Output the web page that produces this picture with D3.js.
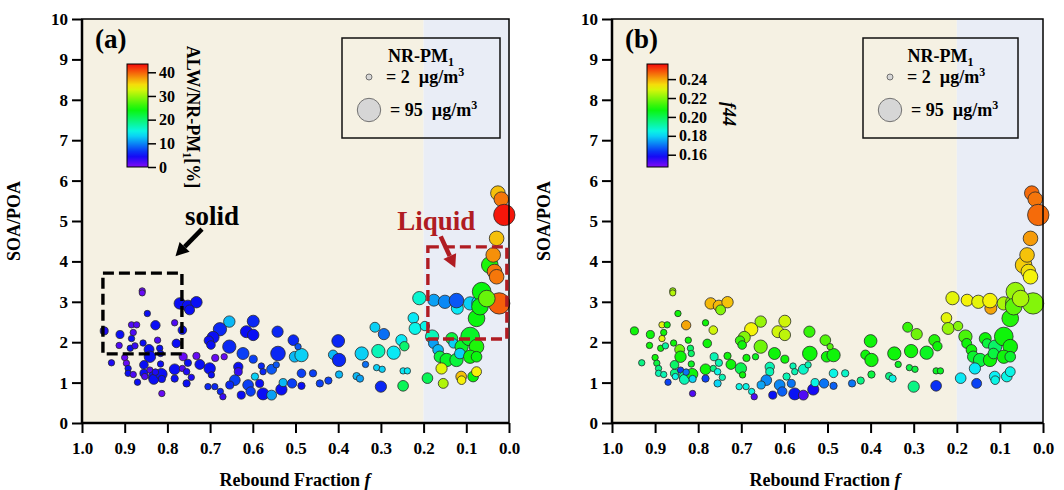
<!DOCTYPE html>
<html>
<head>
<meta charset="utf-8">
<script src="https://cdn.jsdelivr.net/npm/d3@7"></script>
<style>
body { margin: 0; background: #fff; }
svg text { font-family: "Liberation Serif", Tinos, "Times New Roman", "DejaVu Serif", serif !important; font-weight: bold; fill: #000; }
</style>
</head>
<body>
<svg id="chart" width="1064" height="490"></svg>
<script>
// rebound fraction f (x)
const reboundF = [
  0.948,0.911,0.931,0.913,0.859,0.859,0.847,0.884,0.872,0.828,
  0.783,0.880,0.884,0.823,0.857,0.887,0.876,0.818,0.843,0.841,
  0.816,0.779,0.765,0.771,0.752,0.732,0.748,0.763,0.732,0.724,
  0.752,0.783,0.765,0.755,0.744,0.783,0.755,0.900,0.896,0.892,
  0.892,0.880,0.870,0.855,0.855,0.853,0.841,0.833,0.832,0.814,
  0.813,0.813,0.816,0.828,
  0.677,0.693,0.703,0.698,0.655,0.688,0.667,0.701,0.697,0.705,
  0.689,0.676,0.670,0.655,0.599,0.615,0.599,0.623,0.599,0.634,
  0.634,0.642,0.654,0.595,0.611,0.605,0.627,0.580,0.576,0.584,
  0.576,0.556,0.556,0.545,0.542,0.541,0.533,0.529,0.508,0.505,
  0.502,0.486,0.494,0.486,0.486,0.459,0.443,0.423,
  0.400,0.412,0.398,0.398,0.357,0.349,0.345,0.336,0.314,0.293,
  0.306,0.310,0.297,0.300,0.270,0.252,0.245,0.248,0.238,0.248,
  0.224,0.210,0.220,0.197,0.180,0.191,
  0.176,0.150,0.121,0.123,0.091,0.070,0.076,0.064,0.045,0.034,
  0.029,0.023,0.068,0.052,0.026,0.018,0.011,0.029,0.037,0.177,
  0.166,0.162,0.146,0.134,0.130,0.123,0.111,0.115,0.091,0.076,
  0.091,0.076,0.158,0.154,0.112,0.111,0.084,0.076
];
// SOA/POA (y)
const soaPoa = [
  2.28,2.19,1.49,1.92,3.27,3.22,2.71,2.43,2.43,2.42,
  2.48,2.24,2.09,2.05,1.98,1.85,1.91,1.85,1.82,1.64,
  1.72,1.97,2.30,2.96,2.90,2.99,2.80,1.64,1.66,1.45,
  1.49,1.33,1.35,1.27,1.13,1.10,0.98,1.62,1.48,1.35,
  1.23,1.20,1.01,1.23,1.44,1.15,1.31,1.15,1.08,1.21,
  1.09,0.73,1.46,1.26,
  2.32,2.12,2.04,1.93,1.89,1.61,1.64,1.35,1.19,0.90,
  0.90,0.78,0.65,2.51,2.52,2.26,2.18,1.72,1.58,1.39,
  1.27,1.06,0.94,1.15,0.94,0.78,0.69,1.41,1.27,0.98,
  0.72,0.69,1.33,1.44,2.26,1.72,0.83,1.00,0.98,2.05,
  1.64,1.68,1.89,1.23,0.92,1.23,0.98,1.05,
  2.03,1.69,1.56,1.20,1.16,1.10,1.72,1.45,2.37,2.20,
  1.78,1.37,1.33,0.90,1.74,2.05,1.90,1.29,1.29,0.92,
  2.60,3.09,2.34,2.40,2.14,1.11,
  3.04,3.00,2.84,3.03,2.96,2.98,2.59,3.25,3.91,3.75,
  3.62,2.96,2.88,3.08,5.69,5.54,5.15,4.57,4.16,1.97,
  1.81,1.64,1.56,2.09,1.97,1.56,1.89,1.72,2.14,1.89,
  1.64,1.64,1.35,0.98,1.15,1.06,1.15,1.27
];
// NR-PM1 mass, ug/m3 (marker size)
const nrPm1 = [
  13,13,4,4,4,3,4,4,4,20,
  4,4,4,4,4,4,4,4,23,31,
  4,16,16,31,31,31,23,13,9,23,
  9,27,4,5,4,9,9,4,4,4,
  4,4,4,13,16,4,4,23,23,31,
  9,4,4,5,
  41,34,20,16,41,9,4,31,4,4,
  4,4,4,31,34,34,31,34,13,20,
  13,27,13,9,27,20,13,4,4,13,
  34,23,23,4,30,48,30,13,20,27,
  27,41,4,16,9,9,9,9,
  38,20,41,9,9,9,41,4,23,30,
  41,4,4,30,41,30,20,4,4,27,
  27,41,34,20,41,27,
  34,41,34,48,41,48,59,70,59,48,
  48,84,59,59,48,48,84,48,48,23,
  27,31,41,34,20,41,41,27,70,48,
  41,27,30,23,27,16,27,23
];
// ALW / NR-PM1 [%] (colour, panel a)
const alwPct = [
  4,5,4,2,1,1,5,2,2,5,
  2,2,5,2,5,5,3,5,5,5,
  5,5,5,5,5,5,5,1,1,5,
  5,5,2,4,4,5,5,1,1,5,
  5,2,5,5,5,2,2,5,5,5,
  5,1,5,4,
  6,5,5,5,6,1,1,5,5,6,
  6,6,3,12,6,5,5,7,7,5,
  3,7,6,13,7,7,5,6,6,5,
  5,11,8,8,6,6,5,12,7,6,
  12,13,8,7,5,7,7,7,
  6,12,6,12,12,11,13,9,13,9,
  17,13,13,6,14,14,20,14,14,21,
  14,16,15,15,17,21,
  11,10,14,8,13,13,24,24,25,39,
  39,40,24,28,36,39,43,36,38,11,
  12,22,23,22,13,22,23,13,23,25,
  24,24,33,31,36,34,24,34
];
// f44 (colour, panel b)
const f44 = [
  0.208,0.208,0.195,0.208,0.222,0.225,0.208,0.230,0.208,0.240,
  0.208,0.208,0.230,0.208,0.208,0.208,0.192,0.198,0.218,0.208,
  0.198,0.208,0.228,0.238,0.238,0.237,0.220,0.190,0.208,0.208,
  0.190,0.208,0.195,0.185,0.190,0.165,0.180,0.208,0.202,0.195,
  0.190,0.190,0.165,0.195,0.198,0.185,0.165,0.195,0.190,0.208,
  0.180,0.152,0.205,0.170,
  0.232,0.220,0.212,0.208,0.218,0.208,0.205,0.200,0.208,0.185,
  0.185,0.185,0.152,0.222,0.228,0.228,0.226,0.208,0.208,0.190,
  0.190,0.172,0.175,0.190,0.172,0.168,0.160,0.190,0.190,0.170,
  0.160,0.152,0.188,0.190,0.212,0.208,0.158,0.185,0.170,0.215,
  0.208,0.208,0.215,0.185,0.168,0.188,0.170,0.195,
  0.208,0.208,0.208,0.202,0.195,0.185,0.208,0.205,0.212,0.218,
  0.208,0.202,0.202,0.195,0.205,0.210,0.208,0.205,0.205,0.163,
  0.230,0.230,0.222,0.220,0.214,0.182,
  0.232,0.230,0.240,0.232,0.224,0.220,0.210,0.222,0.236,0.234,
  0.232,0.220,0.216,0.224,0.246,0.245,0.246,0.241,0.237,0.208,
  0.208,0.204,0.202,0.208,0.202,0.208,0.198,0.202,0.208,0.208,
  0.208,0.204,0.182,0.165,0.183,0.185,0.185,0.185
];

const xTicks = [1.0,0.9,0.8,0.7,0.6,0.5,0.4,0.3,0.2,0.1,0.0];
const yTicks = [0,1,2,3,4,5,6,7,8,9,10];
const alwTicks = [0,10,20,30,40];
const f44Ticks = [0.16,0.18,0.20,0.22,0.24];
const legendSizes = [2,95];
const liquidLimit = 0.2;

const serif = '"Liberation Serif", Tinos, "Times New Roman", "DejaVu Serif", serif';
const svg = d3.select('#chart');
const points = reboundF.map((f, i) => ({ f: f, r: soaPoa[i], pm: nrPm1[i], alw: alwPct[i], f44: f44[i] }));

// Igor style rainbow: purple at bottom, red at top
function rainbow(t) {
  t = Math.max(0, Math.min(1, t));
  return d3.hsl(270 * (1 - t), 0.92, 0.5).formatHex();
}

const sizeScale = d3.scaleLinear().domain([2, 95]).range([3, 11.7]);

// gradient for colour bars
const defs = svg.append('defs');
const grad = defs.append('linearGradient').attr('id', 'rainbowGrad')
  .attr('x1', 0).attr('y1', 1).attr('x2', 0).attr('y2', 0);
d3.range(0, 1.0001, 0.05).forEach(t => {
  grad.append('stop').attr('offset', t).attr('stop-color', rainbow(t));
});

function drawPanel(opt) {
  const top = 19, height = 404;
  const g = svg.append('g').attr('transform', `translate(${opt.left},${top})`);
  const x = d3.scaleLinear().domain([1, 0]).range([0, opt.width]);
  const y = d3.scaleLinear().domain([0, 10]).range([height, 0]);
  const cNorm = d3.scaleLinear().domain(opt.cDomain).range([0, 1]);

  // backgrounds: solid / liquid regions
  g.append('rect').attr('x', 0).attr('y', 0).attr('width', x(liquidLimit)).attr('height', height).attr('fill', '#f5f1e3');
  g.append('rect').attr('x', x(liquidLimit)).attr('y', 0).attr('width', opt.width - x(liquidLimit)).attr('height', height).attr('fill', '#e9edf6');

  // axes
  const yAxis = g.append('g').call(d3.axisLeft(y).tickValues(yTicks).tickSize(10).tickPadding(4).tickSizeOuter(0).tickFormat(d3.format('d')));
  const xAxis = g.append('g').attr('transform', `translate(0,${height})`)
    .call(d3.axisBottom(x).tickValues(xTicks).tickSize(10).tickPadding(9).tickSizeOuter(0).tickFormat(d3.format('.1f')));
  [yAxis, xAxis].forEach(a => {
    a.attr('font-family', serif);
    a.select('.domain').remove();
    a.selectAll('line').attr('stroke', '#000').attr('stroke-width', 2);
    a.selectAll('text').attr('font-size', 17).attr('font-weight', 'bold');
  });

  // points
  g.append('g').selectAll('circle').data(points).enter().append('circle')
    .attr('cx', d => x(d.f))
    .attr('cy', d => y(d.r))
    .attr('r', d => sizeScale(d.pm))
    .attr('fill', d => rainbow(cNorm(d[opt.key])))
    .attr('stroke', '#2a2a2a')
    .attr('stroke-width', 0.8);

  // frame
  g.append('rect').attr('width', opt.width).attr('height', height)
    .attr('fill', 'none').attr('stroke', '#000').attr('stroke-width', 1.5);
  g.append('line').attr('x1', 0).attr('x2', 0).attr('y1', 0).attr('y2', height).attr('stroke', '#000').attr('stroke-width', 2.5);
  g.append('line').attr('x1', 0).attr('x2', opt.width).attr('y1', height).attr('y2', height).attr('stroke', '#000').attr('stroke-width', 2.5);

  // axis titles
  const xt = g.append('text').attr('x', 213).attr('y', 467).attr('text-anchor', 'middle').attr('font-size', 18);
  xt.append('tspan').text('Rebound Fraction ');
  xt.append('tspan').attr('font-style', 'italic').text('f');
  g.append('text').attr('transform', `translate(-62,${height / 2}) rotate(-90)`)
    .attr('text-anchor', 'middle').attr('font-size', 18).text('SOA/POA');

  // panel label
  g.append('text').attr('x', 13).attr('y', 29).attr('font-size', 27).text(opt.label);

  // colour bar
  const cb = { x: opt.cbX, y: 45, w: 21, h: 103 };
  const cScale = d3.scaleLinear().domain(opt.cDomain).range([cb.y + cb.h, cb.y]);
  g.append('rect').attr('x', cb.x).attr('y', cb.y).attr('width', cb.w).attr('height', cb.h)
    .attr('fill', 'url(#rainbowGrad)').attr('stroke', '#000').attr('stroke-width', 1);
  const cAxis = g.append('g').attr('transform', `translate(${cb.x + cb.w},0)`)
    .call(d3.axisRight(cScale).tickValues(opt.cTicks).tickSize(8).tickPadding(3).tickFormat(opt.cFormat));
  cAxis.attr('font-family', serif);
  cAxis.select('.domain').remove();
  cAxis.selectAll('line').attr('stroke', '#000').attr('stroke-width', 1.5);
  cAxis.selectAll('text').attr('font-size', 16).attr('font-weight', 'bold');
  const ct = g.append('text').attr('transform', `translate(${opt.cbTitleX},${opt.cbTitleY}) rotate(90)`)
    .attr('text-anchor', 'middle').attr('font-size', 18);
  opt.cbTitle(ct);

  // size legend
  const lg = g.append('g').attr('transform', `translate(${opt.legX},19)`);
  lg.append('rect').attr('width', opt.legW).attr('height', 100).attr('fill', 'none').attr('stroke', '#111').attr('stroke-width', 1.5);
  const lt = lg.append('text').attr('x', opt.legW / 2).attr('y', 24).attr('text-anchor', 'middle').attr('font-size', 18);
  lt.append('tspan').text('NR-PM');
  lt.append('tspan').attr('font-size', 12).attr('dy', 4).text('1');
  legendSizes.forEach((s, i) => {
    const cy = i === 0 ? 39 : 72;
    lg.append('circle').attr('cx', 27).attr('cy', cy).attr('r', sizeScale(s))
      .attr('fill', '#d6d6d6').attr('stroke', '#555').attr('stroke-width', 0.8);
    const tx = lg.append('text').attr('x', i === 0 ? 44 : 48).attr('y', cy + 6).attr('font-size', 18);
    tx.append('tspan').text(`= ${s}\u00a0\u00a0\u00b5g/m`);
    tx.append('tspan').attr('font-size', 12).attr('dy', -7).text('3');
  });

  return { g, x, y };
}

// panel (a)
const pa = drawPanel({
  left: 82, width: 427, key: 'alw', label: '(a)',
  cDomain: [0, 43.5], cTicks: alwTicks, cFormat: d3.format('d'),
  cbX: 45, cbTitleX: 105, cbTitleY: 98,
  cbTitle: t => {
    t.append('tspan').text('ALW/NR-PM');
    t.append('tspan').attr('font-size', 12).attr('dy', 4).text('1');
    t.append('tspan').attr('dy', -4).text('[%]');
  },
  legX: 260, legW: 158
});

// panel (b)
drawPanel({
  left: 612, width: 431, key: 'f44', label: '(b)',
  cDomain: [0.147, 0.256], cTicks: f44Ticks, cFormat: d3.format('.2f'),
  cbX: 35, cbTitleX: 111, cbTitleY: 95,
  cbTitle: t => { t.attr('font-style', 'italic').text('f44'); },
  legX: 251, legW: 155
});

// annotations on panel (a): solid / liquid boxes and arrows
const ag = pa.g.append('g');
function dashedBox(f0, f1, r0, r1, color) {
  ag.append('rect')
    .attr('x', pa.x(f0)).attr('y', pa.y(r1))
    .attr('width', pa.x(f1) - pa.x(f0)).attr('height', pa.y(r0) - pa.y(r1))
    .attr('fill', 'none').attr('stroke', color).attr('stroke-width', 3.4)
    .attr('stroke-dasharray', '11,5');
}
dashedBox(0.951, 0.766, 1.71, 3.71, '#000');
dashedBox(0.19, 0.005, 2.08, 4.36, '#b01c22');

function arrow(f0, r0, f1, r1, color) {
  const x0 = pa.x(f0), y0 = pa.y(r0), x1 = pa.x(f1), y1 = pa.y(r1);
  const ang = Math.atan2(y1 - y0, x1 - x0);
  const hl = 13, hw = 7;
  const bx = x1 - hl * Math.cos(ang), by = y1 - hl * Math.sin(ang);
  ag.append('line').attr('x1', x0).attr('y1', y0).attr('x2', bx).attr('y2', by)
    .attr('stroke', color).attr('stroke-width', 4.5);
  const px = -Math.sin(ang) * hw, py = Math.cos(ang) * hw;
  ag.append('path')
    .attr('d', `M${x1},${y1}L${bx + px},${by + py}L${bx - px},${by - py}Z`)
    .attr('fill', color);
}
arrow(0.719, 4.8, 0.781, 4.13, '#000');
arrow(0.160, 4.62, 0.126, 3.84, '#b01c22');

ag.append('text').attr('x', pa.x(0.759)).attr('y', pa.y(4.9)).attr('font-size', 27).text('solid');
ag.append('text').attr('x', pa.x(0.262)).attr('y', pa.y(4.77)).attr('font-size', 27)
  .style('fill', '#b01c22').text('Liquid');
</script>
</body>
</html>
